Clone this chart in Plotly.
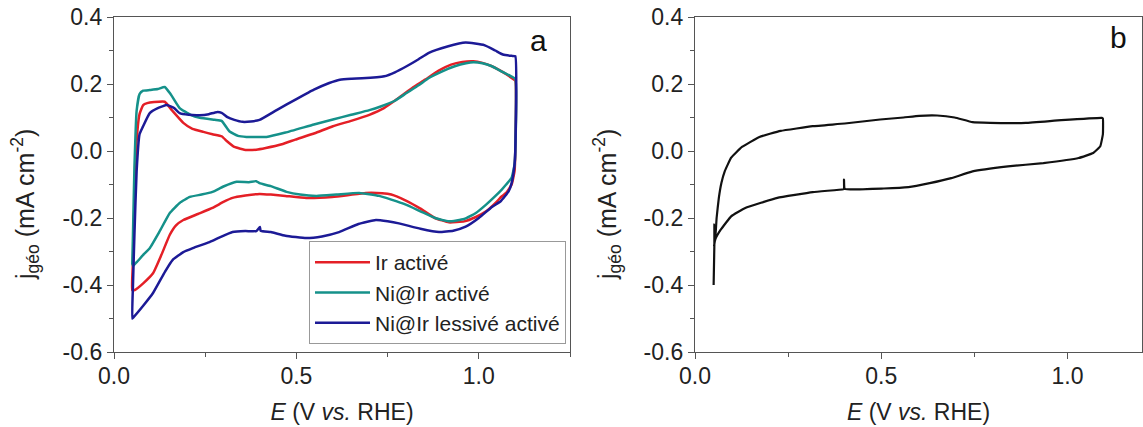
import plotly.graph_objects as go

# ---------------- Panel a data ----------------
ir_x = [0.050, 0.052, 0.056, 0.062, 0.070, 0.080, 0.091, 0.110, 0.139, 0.160, 0.190, 0.215, 0.245,
        0.270, 0.295, 0.309, 0.330, 0.363, 0.390, 0.416, 0.460, 0.497, 0.550, 0.600, 0.650, 0.700,
        0.740, 0.780, 0.820, 0.853, 0.890, 0.924, 0.955, 0.985, 1.010, 1.036, 1.065, 1.090, 1.100,
        1.100, 1.098, 1.090, 1.075, 1.063, 1.046, 1.020, 0.992, 0.960, 0.918, 0.880, 0.840, 0.800,
        0.760, 0.735, 0.690, 0.640, 0.598, 0.527, 0.470, 0.430, 0.399, 0.360, 0.325, 0.300, 0.270,
        0.230, 0.190, 0.170, 0.153, 0.130, 0.107, 0.080, 0.057, 0.050]
ir_y = [-0.415, -0.330, -0.150, 0.030, 0.110, 0.137, 0.143, 0.146, 0.147, 0.120, 0.084, 0.066, 0.057,
        0.050, 0.044, 0.030, 0.012, 0.003, 0.004, 0.009, 0.020, 0.034, 0.053, 0.074, 0.090, 0.108,
        0.128, 0.158, 0.190, 0.213, 0.240, 0.258, 0.266, 0.268, 0.263, 0.253, 0.236, 0.218, 0.210,
        0.000, -0.060, -0.100, -0.125, -0.135, -0.155, -0.180, -0.197, -0.210, -0.213, -0.200, -0.172, -0.148,
        -0.130, -0.126, -0.125, -0.132, -0.137, -0.140, -0.134, -0.130, -0.128, -0.133, -0.140, -0.152, -0.170,
        -0.188, -0.206, -0.222, -0.250, -0.310, -0.365, -0.395, -0.415, -0.415]

ni_x = [0.050, 0.052, 0.056, 0.062, 0.070, 0.080, 0.098, 0.120, 0.139, 0.155, 0.180, 0.210, 0.235,
        0.276, 0.295, 0.317, 0.340, 0.363, 0.418, 0.470, 0.548, 0.600, 0.650, 0.700, 0.731, 0.770,
        0.802, 0.835, 0.863, 0.900, 0.934, 0.965, 0.985, 1.010, 1.036, 1.065, 1.090, 1.100,
        1.100, 1.098, 1.090, 1.075, 1.063, 1.040, 1.020, 0.992, 0.960, 0.918, 0.880, 0.840, 0.800,
        0.760, 0.727, 0.672, 0.610, 0.555, 0.510, 0.473, 0.430, 0.399, 0.390, 0.370, 0.336, 0.300,
        0.270, 0.240, 0.208, 0.180, 0.153, 0.125, 0.098, 0.080, 0.063, 0.050]
ni_y = [-0.340, -0.250, -0.050, 0.120, 0.170, 0.180, 0.182, 0.185, 0.191, 0.170, 0.128, 0.108, 0.099,
        0.093, 0.090, 0.058, 0.045, 0.042, 0.042, 0.055, 0.079, 0.094, 0.108, 0.122, 0.133, 0.150,
        0.173, 0.196, 0.218, 0.238, 0.253, 0.262, 0.265, 0.262, 0.253, 0.236, 0.222, 0.215,
        0.000, -0.040, -0.080, -0.100, -0.115, -0.140, -0.160, -0.185, -0.203, -0.210, -0.200, -0.180, -0.160,
        -0.145, -0.134, -0.125, -0.130, -0.134, -0.130, -0.122, -0.105, -0.096, -0.090, -0.093, -0.092, -0.106,
        -0.122, -0.130, -0.137, -0.155, -0.185, -0.240, -0.290, -0.310, -0.331, -0.345]

nil_x = [0.050, 0.052, 0.056, 0.062, 0.070, 0.079, 0.098, 0.120, 0.145, 0.165, 0.180, 0.205, 0.235,
         0.260, 0.281, 0.295, 0.311, 0.330, 0.352, 0.375, 0.399, 0.447, 0.500, 0.548, 0.590, 0.619,
         0.650, 0.680, 0.741, 0.770, 0.802, 0.835, 0.863, 0.914, 0.964, 1.015, 1.045, 1.066, 1.090, 1.100,
         1.100, 1.098, 1.090, 1.082, 1.060, 1.036, 1.000, 0.964, 0.930, 0.891, 0.840, 0.781, 0.750,
         0.718, 0.670, 0.617, 0.570, 0.527, 0.470, 0.430, 0.402, 0.400, 0.390, 0.360, 0.325, 0.290,
         0.262, 0.216, 0.190, 0.161, 0.140, 0.107, 0.080, 0.052, 0.050]
nil_y = [-0.500, -0.400, -0.250, -0.060, 0.050, 0.072, 0.113, 0.128, 0.137, 0.128, 0.113, 0.108, 0.107,
         0.110, 0.116, 0.114, 0.101, 0.093, 0.087, 0.088, 0.093, 0.123, 0.155, 0.183, 0.203, 0.213,
         0.216, 0.217, 0.223, 0.235, 0.253, 0.274, 0.293, 0.312, 0.324, 0.316, 0.300, 0.288, 0.284, 0.283,
         0.000, -0.040, -0.096, -0.120, -0.150, -0.167, -0.200, -0.226, -0.238, -0.242, -0.232, -0.216, -0.210,
         -0.206, -0.218, -0.242, -0.255, -0.260, -0.253, -0.242, -0.238, -0.227, -0.239, -0.239, -0.242, -0.258,
         -0.272, -0.290, -0.302, -0.325, -0.360, -0.424, -0.462, -0.498, -0.500]

# ---------------- Panel b data ----------------
b_x = [0.050, 0.052, 0.052, 0.054, 0.058, 0.064, 0.071, 0.080, 0.097, 0.126, 0.173, 0.230, 0.316, 0.402,
       0.497, 0.560, 0.602, 0.650, 0.697, 0.745, 0.792, 0.888, 0.983, 1.092, 1.095,
       1.095, 1.088, 1.069, 1.030, 0.935, 0.840, 0.745, 0.688, 0.630, 0.573, 0.507, 0.402, 0.400,
       0.400, 0.398, 0.316, 0.221, 0.135, 0.097, 0.069, 0.054, 0.051]
b_y = [-0.400, -0.280, -0.220, -0.270, -0.200, -0.140, -0.095, -0.060, -0.020, 0.012, 0.042, 0.060, 0.074, 0.082,
       0.094, 0.100, 0.105, 0.106, 0.100, 0.086, 0.084, 0.084, 0.092, 0.099, 0.097,
       0.050, 0.014, -0.006, -0.021, -0.036, -0.046, -0.061, -0.081, -0.096, -0.108, -0.112, -0.113, -0.085,
       -0.113, -0.114, -0.123, -0.140, -0.170, -0.195, -0.235, -0.265, -0.285]

series_names = ["Ir activé", "Ni@Ir activé", "Ni@Ir lessivé activé"]
series_colors = ["#e41f26", "#15918a", "#1c1a96"]

x_tick_vals = [0.0, 0.5, 1.0]
x_tick_text = ["0.0", "0.5", "1.0"]
y_tick_vals = [-0.6, -0.4, -0.2, 0.0, 0.2, 0.4]
y_tick_text = ["-0.6", "-0.4", "-0.2", "0.0", "0.2", "0.4"]
y_title_text = "j<sub>géo</sub> (mA cm<sup>-2</sup>)"
x_title_text = "<i>E</i> (V <i>vs.</i> RHE)"

W, H = 1143, 427
FONT = "Liberation Sans, Arial, sans-serif"
TXT = "#222222"
AX = "#555555"

fig = go.Figure()
for (xs, ys), name, col in zip([(ir_x, ir_y), (ni_x, ni_y), (nil_x, nil_y)], series_names, series_colors):
    fig.add_trace(go.Scatter(x=xs, y=ys, mode="lines", name=name,
                             line=dict(color=col, width=2.5, shape="spline", smoothing=0.4),
                             xaxis="x", yaxis="y"))
fig.add_trace(go.Scatter(x=b_x, y=b_y, mode="lines", showlegend=False,
                         line=dict(color="#111111", width=2.2, shape="spline", smoothing=0.3),
                         xaxis="x2", yaxis="y2"))

def px_x(p):
    return p / W

def px_y(p):
    return 1 - p / H

axis_common = dict(showline=True, linecolor=AX, linewidth=1.3, mirror=True,
                   ticks="outside", ticklen=6, tickwidth=1.3, tickcolor=AX,
                   showgrid=False, zeroline=False, automargin=False,
                   tickfont=dict(family=FONT, size=23, color=TXT))
x_minor = dict(tickvals=[0.25, 0.75, 1.25], ticks="outside", ticklen=4, tickcolor=AX)
y_minor = dict(tickvals=[-0.5, -0.3, -0.1, 0.1, 0.3], ticks="outside", ticklen=4, tickcolor=AX)
x_title = dict(text=x_title_text, font=dict(family=FONT, size=23, color=TXT), standoff=16)

yd = [px_y(352), px_y(17)]
fig.update_layout(
    width=W, height=H, margin=dict(l=0, r=0, t=0, b=0),
    paper_bgcolor="white", plot_bgcolor="white",
    xaxis=dict(domain=[px_x(114), px_x(570)], range=[0, 1.25], tickvals=x_tick_vals, ticktext=x_tick_text,
               minor=x_minor, title=x_title, anchor="y", ticklabelstandoff=-3, **axis_common),
    yaxis=dict(domain=yd, range=[-0.6, 0.4], tickvals=y_tick_vals, ticktext=y_tick_text,
               minor=y_minor, anchor="x", **axis_common),
    xaxis2=dict(domain=[px_x(695), px_x(1142)], range=[0, 1.2], tickvals=x_tick_vals, ticktext=x_tick_text,
                minor=x_minor, title=x_title, anchor="y2", ticklabelstandoff=-3, **axis_common),
    yaxis2=dict(domain=yd, range=[-0.6, 0.4], tickvals=y_tick_vals, ticktext=y_tick_text,
                minor=y_minor, anchor="x2", **axis_common),
    legend=dict(x=px_x(566), y=px_y(344), xanchor="right", yanchor="bottom",
                bgcolor="white", bordercolor="#999999", borderwidth=1,
                font=dict(family=FONT, size=21, color=TXT), tracegroupgap=0, itemwidth=55),
    annotations=[
        dict(text=y_title_text, textangle=-90, x=px_x(25), y=px_y(205), xref="paper", yref="paper",
             showarrow=False, xanchor="center", yanchor="middle",
             font=dict(family=FONT, size=25, color=TXT)),
        dict(text=y_title_text, textangle=-90, x=px_x(607), y=px_y(205), xref="paper", yref="paper",
             showarrow=False, xanchor="center", yanchor="middle",
             font=dict(family=FONT, size=25, color=TXT)),
        dict(text="a", x=px_x(538), y=px_y(40), xref="paper", yref="paper", showarrow=False,
             xanchor="center", yanchor="middle", font=dict(family=FONT, size=30, color="#111111")),
        dict(text="b", x=px_x(1118), y=px_y(38), xref="paper", yref="paper", showarrow=False,
             xanchor="center", yanchor="middle", font=dict(family=FONT, size=30, color="#111111")),
    ],
)

fig.write_html("out.html", config={"displayModeBar": False},
               post_script="document.body.style.margin='0px';")
